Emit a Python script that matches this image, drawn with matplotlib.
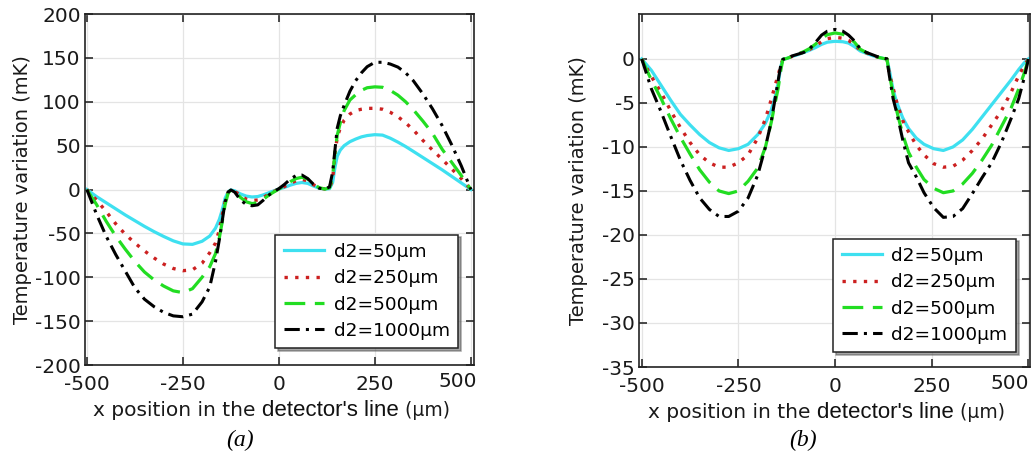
import matplotlib
matplotlib.use("Agg")
import matplotlib.pyplot as plt
import matplotlib.transforms as mtransforms
from matplotlib.offsetbox import TextArea, HPacker, AnchoredOffsetbox

plt.rcParams["axes.unicode_minus"] = False

# ---------------- data: panel (a) ----------------
x_a = [-500, -475, -450, -425, -400, -375, -350, -325, -300, -275, -250, -225,
       -200, -180, -165, -155, -148, -140, -132, -125, -115, -100, -85, -70,
       -55, -40, -25, -10, 0, 15, 30, 45, 60, 75, 90, 105, 120, 132, 140, 146,
       152, 160, 170, 185, 200, 215, 230, 250, 270, 290, 310, 330, 350, 375,
       400, 425, 450, 475, 500]

a_d50 = [0, -8, -15, -22, -29, -35.5, -42, -48, -53.5, -58.5, -62, -62.5,
         -59, -53, -44, -34, -24, -10, -2.5, -0.5, -1.5, -5, -7.5, -8.5,
         -8, -6, -3.5, -1, 0.5, 2.5, 5, 7, 8, 7, 4, 1.5, 0.5, 1, 8, 25,
         38, 45, 50, 54.5, 57.5, 60, 61.5, 62.5, 62, 58.5, 54, 49, 43.5, 36.5,
         29.5, 22.5, 15, 7.5, 0]

a_d250 = [0, -12, -25, -39, -51, -61, -70, -78, -85, -90, -92.5, -91.5,
          -84, -72, -61, -46, -30, -14, -3, -0.5, -2, -7, -11, -12.5,
          -12, -9, -5, -1.5, 0.5, 3.5, 7, 10, 11.5, 10, 5.5, 2, 0.5, 1.5, 12, 40,
          60, 70, 79, 86, 90, 91.5, 92.5, 92.5, 91.5, 88, 83, 76, 68, 56,
          45, 34.5, 23.5, 12.5, 0]

a_d500 = [0, -17, -36, -53, -68, -82, -94, -103, -110, -115.5, -117.5, -113,
          -100, -88, -73, -55, -38, -17, -4, -0.5, -2.5, -9, -14, -16,
          -15, -11, -6, -2, 0.5, 4.5, 9, 12.5, 14, 12, 6.5, 2, 0.5, 2, 15, 42,
          62, 76, 90, 102, 108, 113, 116, 117, 116.5, 113, 107.5, 100, 91, 78,
          64, 46, 31, 16, 0]

a_d1000 = [0, -28, -53, -74, -93, -112, -125, -133.5, -140, -144, -145, -142,
           -128, -111, -82, -57, -37, -14, -3, -0.5, -3, -12, -17, -18.5,
           -17.5, -12, -6, -1.5, 1, 6, 12, 16, 16.5, 12.5, 6, 1.5, 0.5, 3, 20, 45,
           70, 84, 96, 112, 124, 133, 140, 145, 145, 143, 139.5, 133, 124, 109,
           92, 73, 51, 27, 0]

# ---------------- data: panel (b) ----------------
x_b = [-500, -475, -450, -425, -400, -375, -350, -325, -300, -275, -250, -225,
       -200, -180, -165, -155, -147, -140, -135, -125, -110, -95, -80, -65,
       -50, -35, -20, 0, 20, 35, 50, 65, 80, 95, 110, 125, 134, 140, 150, 160,
       175, 190, 210, 230, 255, 280, 305, 330, 355, 380, 405, 430, 455, 475,
       490, 500]

b_d50 = [0, -1.3, -3.0, -4.7, -6.3, -7.5, -8.6, -9.5, -10.1, -10.4, -10.2, -9.7,
         -8.6, -7.3, -5.8, -4.3, -2.7, -0.8, -0.05, 0.05, 0.3, 0.5, 0.75, 1.0,
         1.3, 1.65, 1.9, 2.0, 1.95, 1.8, 1.4, 0.9, 0.65, 0.4, 0.2, 0.05, 0, -1.2, -3.5, -5.0,
         -6.7, -7.9, -9.0, -9.7, -10.2, -10.4, -10.0, -9.2, -8.0, -6.6, -5.2, -3.8, -2.4, -1.2,
         -0.4, 0]

b_d250 = [0, -2.0, -3.8, -5.9, -7.8, -9.5, -10.9, -11.8, -12.3, -12.3, -11.8, -10.9,
          -9.0, -6.8, -4.6, -3.0, -1.8, -0.7, -0.05, 0.05, 0.3, 0.55, 0.8, 1.1,
          1.5, 1.95, 2.3, 2.45, 2.35, 2.1, 1.6, 1.0, 0.7, 0.45, 0.2, 0.05, 0, -1.6, -3.3, -5.0,
          -7.0, -8.3, -9.8, -10.9, -11.9, -12.3, -12.2, -11.5, -10.4, -9.1, -7.5, -5.9, -3.8, -1.9,
          -0.7, 0]

b_d500 = [0, -2.4, -4.5, -6.8, -8.9, -10.8, -12.6, -14.0, -15.0, -15.3, -15.0, -13.9,
          -12.4, -10.0, -7.2, -5.0, -3.3, -1.2, -0.05, 0.05, 0.3, 0.55, 0.85, 1.2,
          1.7, 2.3, 2.75, 2.95, 2.8, 2.45, 1.9, 1.1, 0.75, 0.45, 0.2, 0.05, 0, -1.6, -4.0, -6.0,
          -8.6, -10.6, -12.3, -13.7, -14.7, -15.2, -15.0, -14.2, -13.0, -11.5, -9.8, -7.7, -5.6, -3.4,
          -1.5, 0]

b_d1000 = [0, -3.4, -6.0, -8.8, -11.5, -13.8, -15.8, -17.1, -17.9, -17.9, -17.3, -15.8,
           -13.2, -10.0, -7.1, -4.5, -2.4, -0.6, -0.05, 0.1, 0.35, 0.55, 0.75, 1.2,
           1.9, 2.7, 3.15, 3.35, 3.15, 2.7, 2.05, 1.15, 0.75, 0.5, 0.25, 0.1, 0, -1.8, -4.5, -6.2,
           -9.2, -11.8, -13.4, -15.2, -16.9, -18.0, -17.9, -17.0, -15.3, -13.5, -11.8, -9.5, -6.8, -4.5,
           -2.0, 0]

labels = ["d2=50µm", "d2=250µm", "d2=500µm", "d2=1000µm"]
x_ticks = [-500, -250, 0, 250, 500]
y_ticks_a = [-200, -150, -100, -50, 0, 50, 100, 150, 200]
y_ticks_b = [-35, -30, -25, -20, -15, -10, -5, 0]

# ---------------- styling ----------------
styles = [
    dict(color="#3ee0f0", lw=2.3, ls="-"),
    dict(color="#cc2020", lw=2.4, ls=(0, (1, 2.2))),
    dict(color="#22dd22", lw=2.3, ls=(0, (6.5, 3))),
    dict(color="black", lw=2.2, ls=(0, (5, 2, 1, 2))),
]

fig = plt.figure(figsize=(10.31, 4.61), dpi=100)
fig.patch.set_facecolor("white")

ax_a = fig.add_axes([0.0824, 0.2082, 0.3773, 0.7614])
ax_b = fig.add_axes([0.6198, 0.2039, 0.3792, 0.7657])


def style_axes(ax, yticks, ylim, xlim, last_dx_px):
    ax.set_xlim(*xlim)
    ax.set_ylim(*ylim)
    ax.set_xticks(x_ticks)
    ax.set_yticks(yticks)
    ax.grid(True, color="#e4e4e4", lw=0.9)
    ax.set_axisbelow(True)
    ax.tick_params(direction="in", top=True, right=True, length=6, width=1.1,
                   labelsize=14.5, colors="#1a1a1a")
    ax.tick_params(axis="x", pad=7)
    ax.tick_params(axis="y", pad=3)
    for sp in ax.spines.values():
        sp.set_linewidth(1.2)
        sp.set_color("#222222")
    ax.set_ylabel("Temperature variation (mK)", fontsize=14, color="#1a1a1a")
    # last x tick label sits pulled in from the right edge, a little higher
    fig.canvas.draw()
    last = ax.get_xticklabels()[-1]
    last.set_horizontalalignment("right")
    last.set_transform(last.get_transform() +
                       mtransforms.ScaledTranslation(last_dx_px / 100, 3 / 100,
                                                     fig.dpi_scale_trans))


def add_xlabel(ax):
    parts = HPacker(children=[
        TextArea("x position in the ", textprops=dict(fontsize=14.5, family="DejaVu Sans", color="#1a1a1a")),
        TextArea("detector's line", textprops=dict(fontsize=16, family="Liberation Sans", color="#111111")),
        TextArea(" (µm)", textprops=dict(fontsize=13.5, family="DejaVu Sans", color="#1a1a1a")),
    ], align="baseline", pad=0, sep=0)
    box = AnchoredOffsetbox(loc="upper center", child=parts, pad=0, frameon=False,
                            bbox_to_anchor=(0.48, -0.1), bbox_transform=ax.transAxes,
                            borderpad=0)
    ax.add_artist(box)


def add_legend(ax, anchor):
    leg = ax.legend(labels, loc="lower right", bbox_to_anchor=anchor, fontsize=13.3,
                    frameon=True, fancybox=False, shadow=True, edgecolor="#222222",
                    handlelength=2.2, labelspacing=0.45, borderpad=0.45,
                    handletextpad=0.5, borderaxespad=0)
    leg.get_frame().set_linewidth(1.1)


series_a = [a_d50, a_d250, a_d500, a_d1000]
series_b = [b_d50, b_d250, b_d500, b_d1000]

for ys, st in zip(series_a, styles):
    ax_a.plot(x_a, ys, **st)
for ys, st in zip(series_b, styles):
    ax_b.plot(x_b, ys, **st)

style_axes(ax_a, y_ticks_a, (-200, 200), (-505, 508), 6)
style_axes(ax_b, y_ticks_b, (-35, 5.1), (-507, 504), 1)
ax_a.yaxis.set_label_coords(-0.136, 0.5)
ax_b.yaxis.set_label_coords(-0.130, 0.5)

add_xlabel(ax_a)
add_xlabel(ax_b)
add_legend(ax_a, (0.959, 0.048))
add_legend(ax_b, (0.964, 0.042))

fig.text(0.233, 0.045, "(a)", fontsize=17, family="Liberation Serif", style="italic",
         ha="center", va="center")
fig.text(0.779, 0.045, "(b)", fontsize=17, family="Liberation Serif", style="italic",
         ha="center", va="center")

fig.savefig("out.png", dpi=100, facecolor="white")
